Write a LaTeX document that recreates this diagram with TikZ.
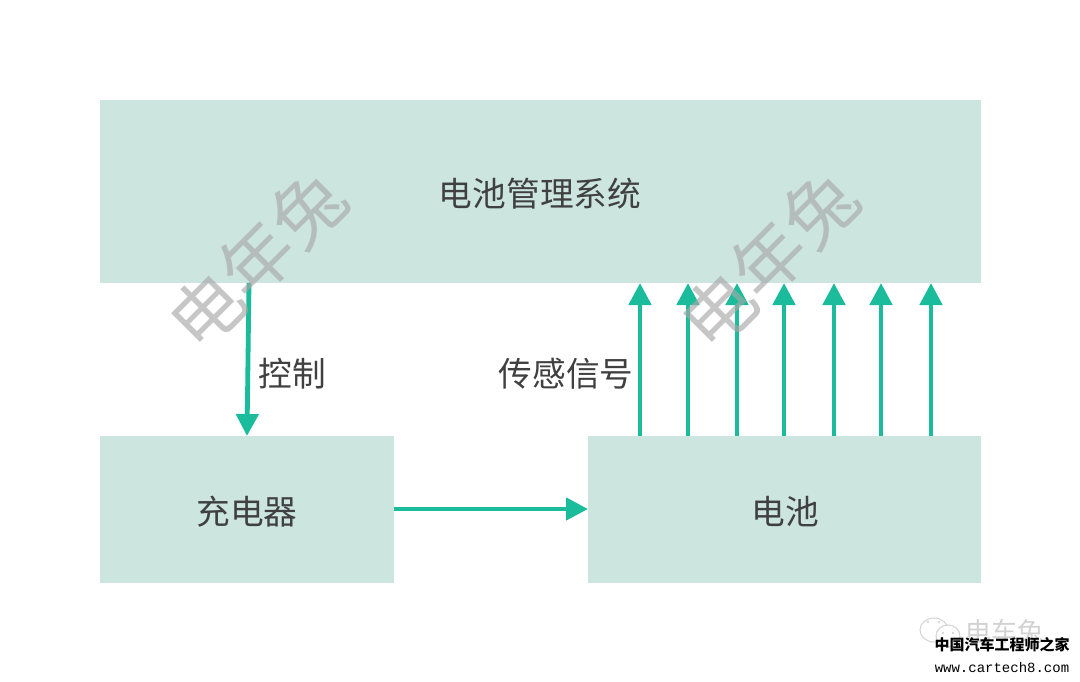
\documentclass[tikz,border=0pt]{standalone}
\usepackage{fontspec}
\setmainfont{Noto Sans CJK SC}
\newfontfamily\monofam{Liberation Mono}
\definecolor{boxfill}{HTML}{CCE6DF}
\definecolor{arrowc}{HTML}{1ABC9C}
\definecolor{txt}{HTML}{404040}
\definecolor{wm}{HTML}{A8A8A8}
\usetikzlibrary{arrows.meta}
\tikzset{
  px/.style={x=1pt,y=-1pt},
  boxn/.style={fill=boxfill,draw=none,inner sep=0pt,anchor=north west},
  lbl/.style={text=txt,font=\fontsize{33.7}{33.7}\selectfont,inner sep=0pt},
  conn/.style={draw=arrowc,line width=4.8pt,-{Triangle[length=22pt,width=22pt]}},
  wmark/.style={text=wm,text opacity=0.65,rotate=45,font=\fontsize{72}{72}\selectfont,inner sep=0pt},
  bubble/.style={draw=gray!35,line width=1pt,fill=white},
  eye/.style={fill=gray!40,draw=none}
}
\begin{document}
\begin{tikzpicture}[px]
\useasboundingbox (0,0) rectangle (1080,682);
\fill[white] (0,0) rectangle (1080,682);
\node[boxn,minimum width=881pt,minimum height=183pt] (bms) at (100,100) {};
\node[boxn,minimum width=294pt,minimum height=147pt] (chg) at (100,436) {};
\node[boxn,minimum width=393pt,minimum height=147pt] (bat) at (588,436) {};
\node[lbl] (t1) at (540,194) {电池管理系统};
\node[lbl] (t2) at (247,512) {充电器};
\node[lbl] (t3) at (785,512) {电池};
\node[lbl] (t4) at (292,374) {控制};
\node[lbl] (t5) at (566,374) {传感信号};
\coordinate (c0a) at (249,283); \coordinate (c0b) at (247,436);
\draw[conn] (c0a) -- (c0b);
\coordinate (c1a) at (394,509); \coordinate (c1b) at (588,509);
\draw[conn] (c1a) -- (c1b);
\foreach \x in {640,688,737,784,834,881,931}{
  \coordinate (s\x) at (\x,436); \coordinate (e\x) at (\x,283);
  \draw[conn] (s\x) -- (e\x);
}
\node[wmark] (w1) at (257,260) {电年兔};
\node[wmark] (w2) at (769,260) {电年兔};
\draw[bubble] (934,630) ellipse (14pt and 12pt);
\fill[eye] (928,622) circle (1.2pt) (939,622) circle (1.2pt);
\draw[bubble] (948,636) ellipse (12pt and 11pt);
\fill[eye] (943,633) circle (1.2pt) (953,633) circle (1.2pt);
\node[text=gray!35,font=\fontsize{26}{26}\selectfont,inner sep=0pt] (w3) at (1004,632) {电车兔};
\node[text=black,font=\bfseries\fontsize{15}{15}\selectfont,inner sep=0pt] (w4) at (1002,645) {中国汽车工程师之家};
\node[text=black,font=\monofam\fontsize{14}{14}\selectfont,inner sep=0pt] (w5) at (1002,667) {www.cartech8.com};
\end{tikzpicture}
\end{document}
